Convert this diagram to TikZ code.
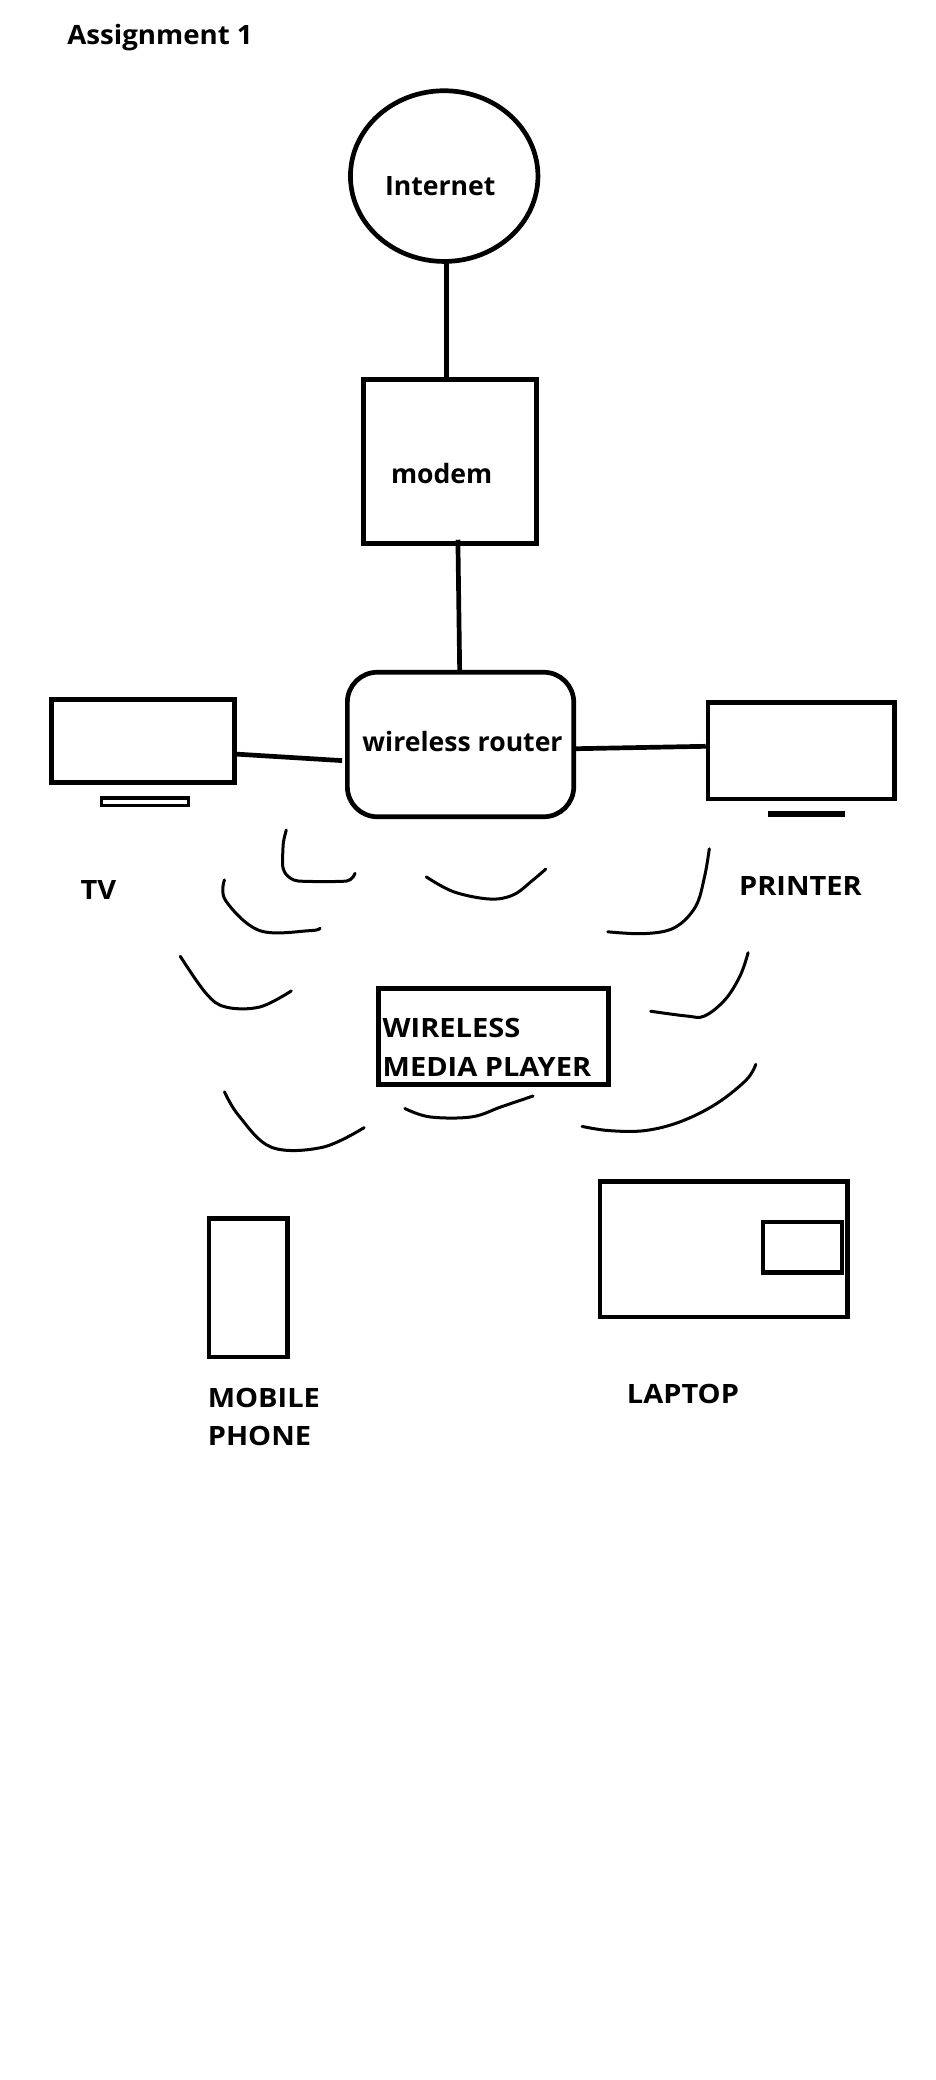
\documentclass[tikz,border=0pt]{standalone}
\usepackage{fontspec}
\setmainfont{Open Sans}
\newfontfamily\capfont{Open Sans}[FakeStretch=1.09]
\newfontfamily\titlefont{Open Sans}[FakeStretch=1.04]
\usetikzlibrary{shapes.geometric,calc}
\begin{document}
\begin{tikzpicture}[x=1pt,y=-1pt,
  shp/.style={draw,line width=4.7pt,inner sep=0,outer sep=0},
  lbl/.style={inner sep=0,outer sep=0,anchor=base west,font=\fontsize{26.6}{32}\selectfont\bfseries},
  caplbl/.style={lbl,font=\fontsize{26.6}{32}\capfont\bfseries},
  conn/.style={line width=4.7pt},
  wave/.style={line width=3pt,line cap=round,line join=round}]
\useasboundingbox[fill=white] (0,0) rectangle (935,2080);

% shapes
\node[shp,ellipse,minimum width=187.5,minimum height=170.7] (inet) at (444.2,176.1) {};
\node[shp,rectangle,minimum width=173.3,minimum height=164] (modem) at (450,461.35) {};
\node[shp,rectangle,rounded corners=30pt,minimum width=226.4,minimum height=144.5] (router) at (460.55,744.5) {};
\node[shp,rectangle,minimum width=183.3,minimum height=83.1] (tv) at (143,741.2) {};
\node[shp,rectangle,line width=3.4pt,minimum width=86.8,minimum height=7.4] (tvstand) at (144.8,801.8) {};
\node[shp,rectangle,minimum width=186.3,minimum height=96.2] (printer) at (801.2,750.75) {};
\node[rectangle,fill=black,inner sep=0,minimum width=77.6,minimum height=6] (prstand) at (806.6,813.7) {};
\node[shp,rectangle,minimum width=229.9,minimum height=96.3] (wmp) at (493.4,1036.5) {};
\node[shp,rectangle,minimum width=78.3,minimum height=138.6] (phone) at (248.1,1287.65) {};
\node[shp,rectangle,minimum width=247.8,minimum height=135.6] (laptop) at (723.85,1249.15) {};
\node[shp,rectangle,minimum width=78.9,minimum height=50.8] (touchpad) at (802.4,1247.35) {};

% connectors
\draw[conn] ([xshift=2.5pt]inet.south) -- ([xshift=2.5pt]inet.south |- modem.north);
\draw[conn] ($(modem.south)+(7.9,-3.6)$) -- ($(router.north)+(-0.85,0)$);
\draw[conn] ($(tv.east)+(0,12.8)$) -- ($(router.west)+(-5.25,16.1)$);
\draw[conn] ($(router.east)+(2.3,4.2)$) -- ($(printer.west)+(-2.3,-4.45)$);

% labels
\node[lbl,font=\fontsize{26.6}{32}\titlefont\bfseries] (title) at (67.3,44) {Assignment 1};
\node[lbl] (tinet) at (385,195.8) {Internet};
\node[lbl] (tmodem) at (391,483.6) {modem};
\node[lbl] (trouter) at (362.4,751) {wireless router};
\node[caplbl] (ttv) at (80.6,899.1) {TV};
\node[caplbl] (tprinter) at (739.1,895.5) {PRINTER};
\node[caplbl] (twmp1) at (382.7,1037.3) {WIRELESS};
\node[caplbl] (twmp2) at (382.7,1076) {MEDIA PLAYER};
\node[caplbl] (tphone1) at (207.8,1407) {MOBILE};
\node[caplbl] (tphone2) at (207.8,1445.8) {PHONE};
\node[caplbl] (tlaptop) at (626.9,1403.4) {LAPTOP};

% wireless waves
\draw[wave] plot[smooth,tension=0.4] coordinates {(286.3,830) (283.3,843) (282.7,866) (286.7,875) (298.3,881) (346.7,881) (355,873.3)};
\draw[wave] plot[smooth,tension=0.6] coordinates {(224.5,879.9) (225.7,900.7) (259.7,930.6) (310.4,930.6) (320,928.2)};
\draw[wave] plot[smooth,tension=0.6] coordinates {(180.3,956.3) (206,993.3) (225.7,1007) (259.7,1007) (291.3,990.9)};
\draw[wave] plot[smooth,tension=0.6] coordinates {(426.3,876.9) (453.7,891.8) (489.6,899) (513.4,894.8) (533.1,879.9) (545.7,869.1)};
\draw[wave] plot[smooth,tension=0.6] coordinates {(709.3,848.8) (704.5,876.9) (695.5,906.7) (674.6,927.6) (644.8,933.6) (607.8,931.8)};
\draw[wave] plot[smooth,tension=0.6] coordinates {(748.1,952.7) (740.3,975.4) (725.4,999.3) (704.5,1016) (686.6,1016) (650.7,1011.2)};
\draw[wave] plot[smooth,tension=0.6] coordinates {(224.5,1091.8) (238.8,1115.7) (271.6,1147.3) (322.4,1147.3) (364.2,1127.6)};
\draw[wave] plot[smooth,tension=0.6] coordinates {(404.8,1108.5) (429.9,1116.9) (471.6,1116.9) (501.5,1106.7) (533.1,1096)};
\draw[wave] plot[smooth,tension=0.6] coordinates {(755.8,1064.3) (746.3,1079.9) (716.4,1103.7) (680.6,1121.6) (644.8,1130.6) (609,1130.6) (582.1,1126.4)};
\end{tikzpicture}
\end{document}
